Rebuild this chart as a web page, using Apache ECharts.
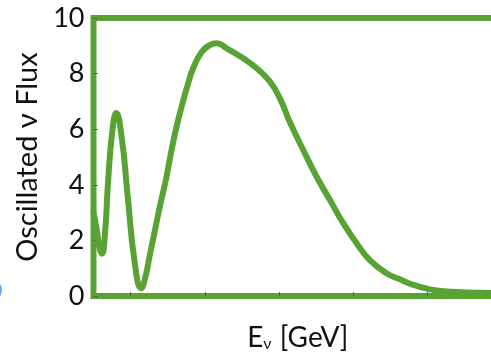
<!DOCTYPE html>
<html>
<head>
<meta charset="utf-8">
<script src="https://cdn.jsdelivr.net/npm/echarts@6/dist/echarts.min.js"></script>
<style>
html,body{margin:0;padding:0;background:#fff;}
#chart{width:491px;height:358px;}
</style>
</head>
<body>
<div id="chart"></div>
<script>
var energy = [0.5, 0.54, 0.58, 0.614, 0.655, 0.695, 0.75, 0.807, 0.88, 0.96, 1.055, 1.143, 1.20, 1.26, 1.33, 1.40, 1.476, 1.54, 1.61, 1.70, 1.78, 1.843, 1.95, 2.06, 2.158, 2.293, 2.516, 2.697, 2.876, 3.011, 3.145, 3.324, 3.504, 3.684, 3.862, 4.042, 4.221, 4.446, 4.625, 4.804, 5.029, 5.254, 5.702, 6.0];
var flux = [3.0, 2.45, 1.75, 1.52, 2.26, 4.05, 5.84, 6.58, 5.7, 3.6, 1.2, 0.28, 0.7, 1.5, 2.4, 3.3, 4.2, 5.1, 6.0, 6.95, 7.7, 8.2, 8.75, 9.02, 9.09, 8.91, 8.55, 8.19, 7.71, 7.1, 6.25, 5.25, 4.29, 3.45, 2.62, 1.9, 1.29, 0.82, 0.6, 0.4, 0.24, 0.16, 0.12, 0.1];
var yTicks = [0, 2, 4, 6, 8, 10];
var xTicks = [1, 2, 3, 4, 5];

var green = '#58a334';
var font = 'Lato';
var chart = echarts.init(document.getElementById('chart'));
var pts = energy.map(function (e, i) { return [e, flux[i]]; });
chart.setOption({
  animation: false,
  grid: {
    left: 93.5, top: 18, bottom: 62, right: -11,
    show: true, borderColor: green, borderWidth: 6,
    backgroundColor: 'transparent',
    outerBoundsMode: 'none'
  },
  xAxis: {
    type: 'value', min: 0.5, max: 6,
    axisLine: { show: false },
    axisLabel: { show: false },
    axisTick: { show: true, inside: true, length: 4, customValues: xTicks, lineStyle: { color: '#555', width: 1 } },
    splitLine: { show: false },
    name: '{a|E}{b|ν}{a| [GeV]}',
    nameLocation: 'middle',
    nameGap: 28,
    nameTextStyle: {
      rich: {
        a: { fontFamily: font, fontSize: 28, color: '#111' },
        b: { fontFamily: font, fontSize: 16, color: '#111', verticalAlign: 'bottom', padding: [12, 1, 0, 0] }
      }
    }
  },
  yAxis: {
    type: 'value', min: 0, max: 10, interval: 2,
    axisLine: { show: false },
    axisTick: { show: true, inside: true, length: 4, lineStyle: { color: '#555', width: 1 } },
    axisLabel: { fontFamily: font, fontSize: 27, color: '#111', margin: 9, formatter: function (v) { return yTicks.indexOf(v) >= 0 ? String(v) : ''; } },
    splitLine: { show: false },
    name: 'Oscillated ν Flux',
    nameLocation: 'middle',
    nameGap: 43,
    nameTextStyle: { fontFamily: font, fontSize: 29, color: '#111' }
  },
  graphic: [{
    type: 'circle', shape: { cx: -9, cy: 290, r: 11 },
    style: { fill: '#5aaaf0' }, silent: true
  }],
  series: [{
    type: 'line',
    data: pts,
    smooth: 0.5,
    showSymbol: false,
    lineStyle: { color: green, width: 6, cap: 'round', join: 'round' },
    clip: true
  }]
});
</script>
</body>
</html>
